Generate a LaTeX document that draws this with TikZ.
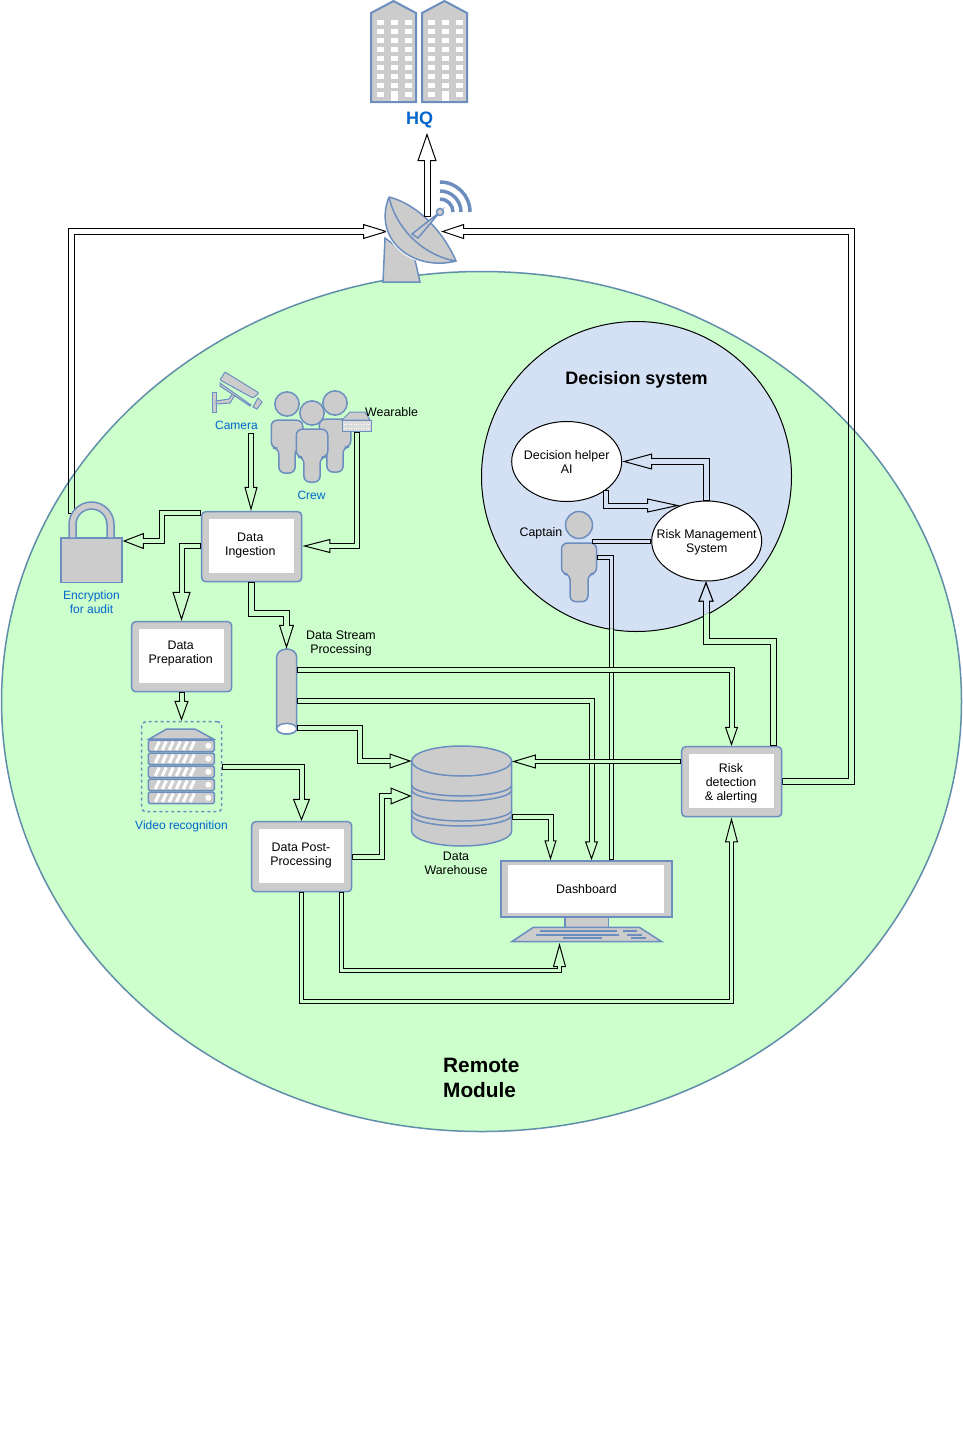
\documentclass[tikz,border=0pt]{standalone}
\usepackage{fontspec}
\setmainfont{Liberation Sans}
\usepackage{tikz}
\usetikzlibrary{arrows.meta,shapes.geometric}

\definecolor{mint}{HTML}{CCFFCC}
\definecolor{paleblue}{HTML}{D4E1F5}
\definecolor{rim}{HTML}{6C8EBF}
\definecolor{shell}{HTML}{CCCCCC}
\definecolor{sky}{HTML}{0066CC}
\colorlet{gapfill}{mint}

\pgfdeclarelayer{loops}
\pgfsetlayers{loops,main}

\tikzset{
  every node/.style={font=\fontsize{12.4}{14}\selectfont,align=center,inner sep=0pt},
  icon/.style={draw=rim,fill=shell,line width=1.5pt},
  note/.style={text=sky,font=\fontsize{12}{14}\selectfont},
  flow/.style n args={3}{
    -{Triangle[length=#1pt,width=#2pt,line width=1pt,fill=gapfill]},
    draw=black,line width=#3pt+1pt,
    postaction={draw=gapfill,-,line width=#3pt-1pt,shorten <=1pt,shorten >=#1pt-1.5pt}},
  stub/.style={draw=black,line width=#1pt+1pt,
    postaction={draw=gapfill,line width=#1pt-1pt,shorten <=1pt,shorten >=1pt}},
  tablet/.style={icon,rounded corners=4pt,minimum width=100,minimum height=70,
    path picture={\fill[white,sharp corners] ([shift={(7.5,7.5)}]path picture bounding box.north west)
      rectangle ([shift={(-7.5,-8.5)}]path picture bounding box.south east);}},
  bubble/.style={draw=black,fill=white,ellipse,line width=1pt,minimum width=110,minimum height=80},
  tower/.pic={
    \draw[icon,line width=2pt] (0,12) -- (22.5,0) -- (45,12) -- (45,101) -- (0,101) -- cycle;
    \foreach \row in {19,28,...,91}
      \foreach \col in {5.5,19.5,33.5}
        \fill[white] (\col,\row) rectangle ++(7,5);
    \fill[white] (19.5,90) rectangle (26.5,100);
  },
  person/.pic={
    \draw[icon] (0,0) circle [radius=13.5pt];
    \draw[icon,rounded corners=6pt] (-17.5,18) -- (17.5,18) -- (17.5,49) -- (9,49)
      -- (9,76.7) -- (-9,76.7) -- (-9,49) -- (-17.5,49) -- cycle;
  },
  rack/.pic={
    \draw[icon,rounded corners=1.5pt] (0,0) rectangle (66,11.5);
    \foreach \gap in {7,14,...,42}
      \draw[white,line width=3pt] (\gap,10) -- (\gap+4,1.5);
    \fill[white] (60,5.75) circle [radius=3pt];
  }
}

\begin{document}
\begin{tikzpicture}[x=1pt,y=-1pt]
  \useasboundingbox (0,0) rectangle (962,1437);

  % links that cross the rim of the module
  \coordinate (dishleft) at (388,231.5);
  \coordinate (dishright) at (441,231.5);
  \coordinate (dishtop) at (427,217);
  \coordinate (lockring) at (71.5,514);
  \begin{pgfonlayer}{loops}
    \colorlet{gapfill}{white}
    \draw[flow={25}{15}{6}] (lockring) |- (dishleft);
    \draw[flow={23}{15}{6}] (781.7,781) -| (851.5,231.5) -- (dishright);
  \end{pgfonlayer}

  \draw[fill=mint,draw=rim,line width=1.5pt,blend mode=multiply] (481.5,701.5) ellipse [x radius=480pt,y radius=430pt];
  \draw[fill=paleblue,draw=black,line width=1pt] (636.5,476.5) circle [radius=155pt];

  % HQ
  \pic (hqleft) at (371,1) {tower};
  \pic (hqright) at (422,1) {tower};
  \node (hq) [note,font=\fontsize{18}{20}\bfseries\selectfont] at (419.5,119.5) {HQ};
  \coordinate (hqbase) at (427,133);

  % satellite dish
  \draw[icon] (385,238) -- (383,282) -- (420,282) -- (415,260) -- cycle;
  \draw[icon,preaction={draw=white,line width=3.5pt}] (389,197) .. controls (420,205) and (445,235) .. (456,261)
    .. controls (414,272) and (372,240) .. (389,197);
  \draw[draw=rim,line width=1.5pt] (389,197) .. controls (395,225) and (420,255) .. (456,261);
  \draw[icon] (412,234) -- (440,212) -- (418,238) -- cycle;
  \draw[icon] (440,212) circle [radius=3.5pt];
  \foreach \wave in {30,21,13}
    \draw[rim,line width=3.5pt] (440,212) ++(0,-\wave) arc [start angle=90,end angle=0,radius=\wave pt];

  % labels of the two areas
  \node (remote) [anchor=west,align=left,font=\fontsize{20.8}{25}\bfseries\selectfont] at (443,1077.5) {Remote\\Module};
  \node (decision) [font=\fontsize{18}{20}\bfseries\selectfont] at (636.5,379.5) {Decision system};

  % camera
  \draw[icon,line width=1pt] (212,392) rectangle (216,412);
  \draw[icon,line width=1pt] (216,401) -- (229,399) -- (233,393) -- (235,395) -- (230,403) -- (216,404) -- cycle;
  \draw[icon,line width=1pt] (220,383) -- (251,405) -- (250,406) -- (220,386) -- cycle;
  \draw[icon,line width=1pt,rounded corners=1pt] (225,372) -- (259,393) -- (253,398) -- (220,380) -- cycle;
  \draw[icon,line width=1pt] (253,407) -- (258,398) -- (262,402) -- (257,409) -- cycle;
  \node (camera) [note] at (236.5,425) {Camera};
  \coordinate (camerafoot) at (251,432.5);

  % crew
  \pic (crewleft) at (287,404) [scale=0.9] {person};
  \pic (crewright) at (335,403) [scale=0.9] {person};
  \pic (crewmid) at (312,413) [scale=0.9] {person};
  \node (crew) [note] at (311.5,495) {Crew};

  % wearable
  \draw[icon,line width=1pt] (342,420) -- (350,412) -- (365,412) -- (370,420) -- cycle;
  \draw[icon,line width=1pt,fill=shell!70!white] (342,420) rectangle (371.5,431.5);
  \draw[white,dotted] (344,424) -- (370,424);
  \draw[white,dotted] (344,428) -- (370,428);
  \node (wearable) [anchor=west] at (365,412) {Wearable};

  % lock
  \node (lock) [icon,minimum width=61,minimum height=44.5] at (91.5,560) {};
  \draw[icon] (69,538) -- (69,524.5) arc [start angle=180,end angle=0,radius=22.5pt] -- (114,538)
    -- (107,538) -- (107,524.5) arc [start angle=0,end angle=180,radius=15.5pt] -- (76,538) -- cycle;
  \node (audit) [note] at (91.5,602) {Encryption\\for audit};

  % boxes
  \node (ingest) [tablet] at (251.7,546.7) {};
  \node (ingesttext) at (250.3,545.5) {Data\\Ingestion};
  \node (prep) [tablet] at (181.7,656.7) {};
  \node (preptext) at (180.7,654) {Data\\Preparation};
  \node (post) [tablet] at (301.7,856.7) {};
  \node (posttext) at (301,856) {Data Post-\\Processing};
  \node (risk) [tablet] at (731.7,781.7) {};
  \node (risktext) at (731,783) {Risk\\detection\\\& alerting};

  % video recognition
  \node (video) [draw=rim,dashed,line width=1.5pt,rounded corners=4pt,minimum width=80,minimum height=90] at (181.7,766.7) {};
  \draw[icon] (149.3,739) -- (166.7,729) -- (195,729) -- (213.3,739) -- cycle;
  \foreach \row in {740,753,766,779,792}
    \pic at (148.3,\row) {rack};
  \node (videotext) [note] at (181.5,826) {Video recognition};

  % stream
  \draw[icon] (276.7,657) arc [start angle=180,end angle=0,x radius=10pt,y radius=8pt] -- (296.7,728.7)
    arc [start angle=0,end angle=-180,x radius=10pt,y radius=5.3pt] -- cycle;
  \draw[icon,fill=white] (286.7,728.7) ellipse [x radius=10pt,y radius=5.3pt];
  \node (stream) [minimum width=20,minimum height=85] at (286.7,691.5) {};
  \node (streamtext) at (341,643.5) {Data Stream\\Processing};

  % warehouse
  \draw[icon] (411.7,761) arc [start angle=180,end angle=0,x radius=50pt,y radius=15pt] -- (511.7,831)
    arc [start angle=0,end angle=-180,x radius=50pt,y radius=15pt] -- cycle;
  \draw[draw=rim,line width=1.5pt] (411.7,761) arc [start angle=180,end angle=360,x radius=50pt,y radius=15pt];
  \foreach \band in {785,790,810,815}
    \draw[draw=rim,line width=1.5pt] (411.7,\band) arc [start angle=180,end angle=360,x radius=50pt,y radius=11pt];
  \node (store) [minimum width=100,minimum height=100] at (461.7,796) {};
  \node (storetext) at (456,863) {Data\\Warehouse};

  % dashboard
  \draw[icon] (565,917) rectangle (608.3,927.5);
  \draw[icon] (511.7,941.7) -- (533.3,927.3) -- (639.3,927.3) -- (661.7,941.7) -- cycle;
  \draw[rim,line width=2pt] (540,931) -- (616.7,931) (622.7,931) -- (637.3,931)
    (536,934.7) -- (618.7,934.7) (626.7,934.7) -- (641.7,934.7)
    (563,938.3) -- (601.7,938.3) (631,938.3) -- (646,938.3);
  \node (screen) [icon,minimum width=171,minimum height=56,
    path picture={\fill[white] ([shift={(6.5,4)}]path picture bounding box.north west)
      rectangle ([shift={(-8.5,-4)}]path picture bounding box.south east);}] at (586.5,889) {Dashboard};
  \coordinate (pad) at (559.5,943);

  % decision system
  \node (helper) [bubble,label={[yshift=-1pt]center:Decision helper\\AI}] at (566.7,461.5) {};
  \node (manage) [bubble,label={[yshift=-1.5pt]center:Risk Management\\System}] at (706.7,541) {};
  \coordinate (managetop) at (680,505.5);
  \pic (captainman) at (579,525) {person};
  \node (captain) at (541,533) {Captain};

  \colorlet{gapfill}{paleblue}
  \draw[flow={30}{16}{6}] (manage.north -| 706.5,0) |- (helper.east |- 0,461.5);
  \draw[flow={33}{14}{5}] (605.5,490) |- (managetop);
  \draw[stub=4] (592,541.5) -- (manage.west |- 0,541.5);

  % the last two run out of the blue circle
  \colorlet{gapfill}{mint}
  \draw[stub=4] (screen.north -| 611.5,0) |- (597,557);
  \draw[flow={20}{15}{6}] (risk.north -| 773,0) |- (706,641.5) -- (manage.south -| 706,0);
  \begin{scope}
    \colorlet{gapfill}{paleblue}
    \clip (636.5,476.5) circle [radius=154pt];
    \draw[stub=4] (screen.north -| 611.5,0) |- (597,557);
    \draw[flow={20}{15}{6}] (risk.north -| 773,0) |- (706,641.5) -- (manage.south -| 706,0);
  \end{scope}

  % links in the module
  \begin{scope}
    \colorlet{gapfill}{white}
    \draw[flow={28}{19}{6}] (dishtop) -- (hqbase);
  \end{scope}
  \draw[flow={24}{13}{5}] (camerafoot) -- (ingest.north -| 251,0);
  \draw[flow={28}{14}{5}] (356.5,432) |- (ingest.east |- 0,546);
  \draw[flow={21}{16}{5}] (ingest.west |- 0,513) -| (161.5,541) -- (lock.east |- 0,541);
  \draw[flow={29}{18}{5}] (ingest.west |- 0,546) -| (prep.north -| 181.5,0);
  \draw[flow={24}{15}{6}] (ingest.south -| 251,0) |- (286.5,613) -- (stream.north -| 286.5,0);
  \draw[flow={20}{14}{5}] (prep.south -| 181.5,0) -- (video.north -| 181.5,0);
  \draw[flow={22}{17}{5}] (video.east |- 0,766.5) -| (post.north -| 301.5,0);
  \draw[flow={19}{13}{5}] (stream.east |- 0,670) -| (risk.north -| 731.5,0);
  \draw[flow={19}{13}{5}] (stream.east |- 0,700.5) -| (screen.north -| 591.5,0);
  \draw[flow={22}{15}{5}] (stream.east |- 0,728) -| (359.5,761) -- (store.west |- 0,761);
  \draw[flow={21}{17}{5}] (post.east |- 0,856.5) -| (381.5,796) -- (store.west |- 0,796);
  \draw[flow={24}{14}{3.5}] (risk.west |- 0,761.5) -- (store.east |- 0,761.5);
  \draw[flow={20}{12}{5}] (store.east |- 0,817) -| (screen.north -| 550.5,0);
  \draw[flow={24}{13}{4}] (post.south -| 341.5,0) |- (559.5,970) -- (pad);
  \draw[flow={25}{13}{4}] (post.south -| 301,0) |- (731.5,1001) -- (risk.south -| 731.5,0);
\end{tikzpicture}
\end{document}
